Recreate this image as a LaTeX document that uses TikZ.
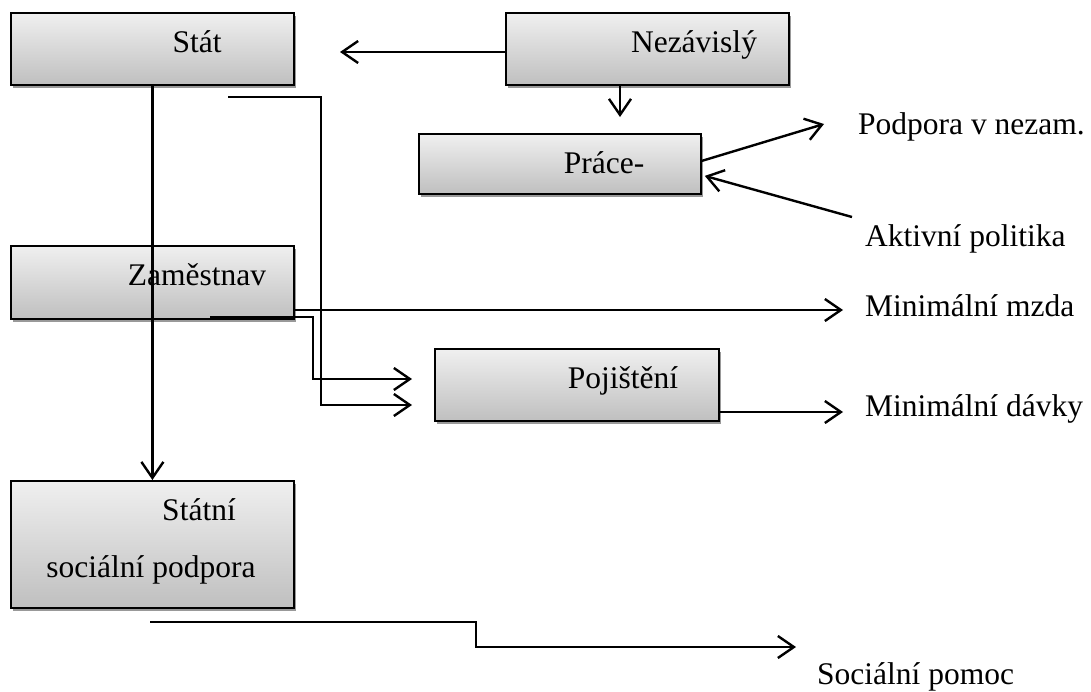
\documentclass[tikz,border=0pt]{standalone}
\usepackage{fontspec}
\setmainfont{Liberation Serif}
\usetikzlibrary{arrows.meta,shadows}
\begin{document}
\begin{tikzpicture}
  [x=1pt, y=-1pt,
  font=\fontsize{31.5}{38}\selectfont,
  box/.style={draw=black, line width=1.8pt, top color=gray!12, bottom color=gray!50,
    drop shadow={shadow xshift=2pt, shadow yshift=-3pt, fill=gray!80, opacity=1},
    anchor=north west, inner sep=0pt},
  word/.style={anchor=base, inner sep=0pt},
  outlabel/.style={anchor=base west, inner sep=0pt},
  link/.style={line width=2.4pt},
  arr/.style={link, -{Straight Barb[length=16pt,width=22pt]}},
  ]
  \useasboundingbox (0,0) rectangle (1091,691);

  % boxes
  \node[box, minimum width=283pt, minimum height=72pt] (stat) at (10,12) {};
  \node[box, minimum width=283pt, minimum height=72pt] (nezavisly) at (505,12) {};
  \node[box, minimum width=282pt, minimum height=60pt] (prace) at (418,133) {};
  \node[box, minimum width=283pt, minimum height=73pt] (zam) at (10,245) {};
  \node[box, minimum width=284pt, minimum height=72pt] (poj) at (434,348) {};
  \node[box, minimum width=283pt, minimum height=127pt] (ssp) at (10,480) {};

  % box texts
  \node[word] (statT) at (197,52) {Stát};
  \node[word] (nezT) at (694,52) {Nezávislý};
  \node[word] (praceT) at (604,173) {Práce-};
  \node[word] (zamT) at (197,285) {Zaměstnav};
  \node[word] (pojT) at (623,388) {Pojištění};
  \node[word] (sspA) at (199,520) {Státní};
  \node[word] (sspB) at (151,577) {sociální podpora};

  % outer labels
  \node[outlabel] (podpora) at (858,134) {Podpora v nezam.};
  \node[outlabel] (aktivni) at (865,246) {Aktivní politika};
  \node[outlabel] (mzda) at (865,316) {Minimální mzda};
  \node[outlabel] (davky) at (865,416) {Minimální dávky};
  \node[outlabel] (pomoc) at (817,684) {Sociální pomoc};

  % arrow ends
  \coordinate (nezL) at (340,52);
  \coordinate (nezD) at (620,117);
  \coordinate (s1) at (228,97);
  \coordinate (pojA) at (412,405);
  \coordinate (z1) at (210,317);
  \coordinate (pojB) at (412,379);
  \coordinate (mzdaA) at (843,310);
  \coordinate (davkyA) at (843,412);
  \coordinate (podporaA) at (824,124);
  \coordinate (aktA) at (852,217);
  \coordinate (b1) at (150,622);
  \coordinate (pomocA) at (796,647);

  % connectors
  \draw[arr] (nezavisly.west |- nezL) -- (nezL);
  \draw[arr] (nezD |- nezavisly.south) -- (nezD);
  \draw[arr] (stat.south) -- (ssp.north);
  \draw[arr] (s1) -- (321,97) -- (321,405) -- (pojA);
  \draw[arr] (z1) -- (313,317) -- (313,379) -- (pojB);
  \draw[arr] (zam.east |- mzdaA) -- (mzdaA);
  \draw[arr] (poj.east |- davkyA) -- (davkyA);
  \draw[arr] ([yshift=3pt]prace.east) -- (podporaA);
  \draw[arr] (aktA) -- ([shift={(3pt,-12pt)}]prace.east);
  \draw[arr] (b1) -- (476,622) -- (476,647) -- (pomocA);
\end{tikzpicture}
\end{document}
